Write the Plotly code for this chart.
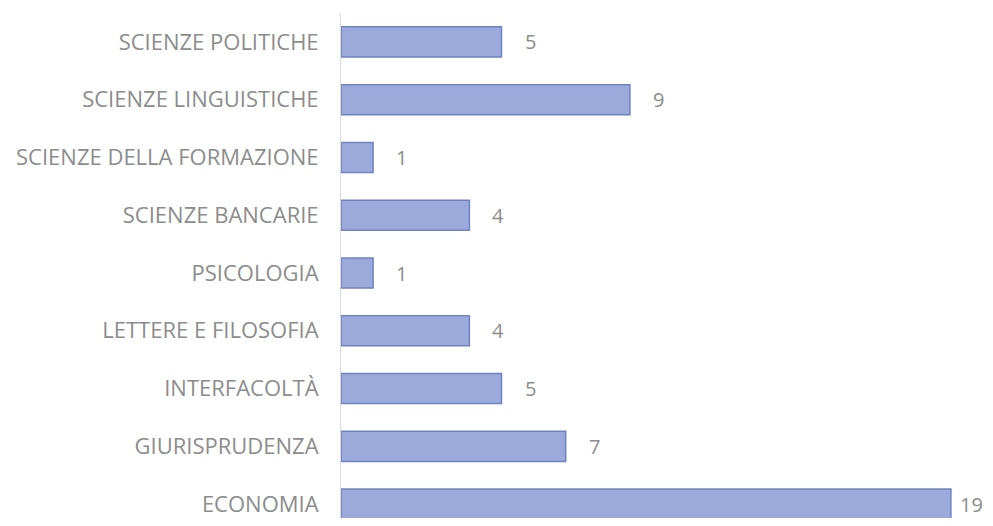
import plotly.graph_objects as go

categories = ["ECONOMIA", "GIURISPRUDENZA", "INTERFACOLTÀ", "LETTERE E FILOSOFIA",
              "PSICOLOGIA", "SCIENZE BANCARIE", "SCIENZE DELLA FORMAZIONE",
              "SCIENZE LINGUISTICHE", "SCIENZE POLITICHE"]
values = [19, 7, 5, 4, 1, 4, 1, 9, 5]

FONT = "Open Sans, sans-serif"

fig = go.Figure()
fig.add_trace(go.Bar(
    y=categories, x=values, orientation="h",
    marker=dict(color="#9CAADB", line=dict(color="#6F83C2", width=1.5)),
    hoverinfo="x+y",
))
vmax = max(values)
for c, v in zip(categories, values):
    fig.add_annotation(x=v, y=c, text=str(v), showarrow=False, xanchor="left",
                       xshift=(7 if v == vmax else 21),
                       font=dict(family=FONT, size=20, color="#8C8C8C"))

fig.update_layout(
    width=985, height=510,
    margin=dict(l=333, r=10, t=5, b=0, autoexpand=False),
    plot_bgcolor="white", paper_bgcolor="white",
    showlegend=False,
    bargap=0.48,
    font=dict(family=FONT, size=21, color="#8C8C8C"),
)
fig.update_xaxes(range=[0, 20], visible=False, showgrid=False, automargin=False)
fig.update_yaxes(range=[-0.24, 8.5], showline=True, linecolor="#D9D9D9", linewidth=1,
                 ticks="", showgrid=False, ticklabelstandoff=17, automargin=False,
                 tickfont=dict(family=FONT, size=22, color="#8C8C8C"))

fig.write_html("out.html")
